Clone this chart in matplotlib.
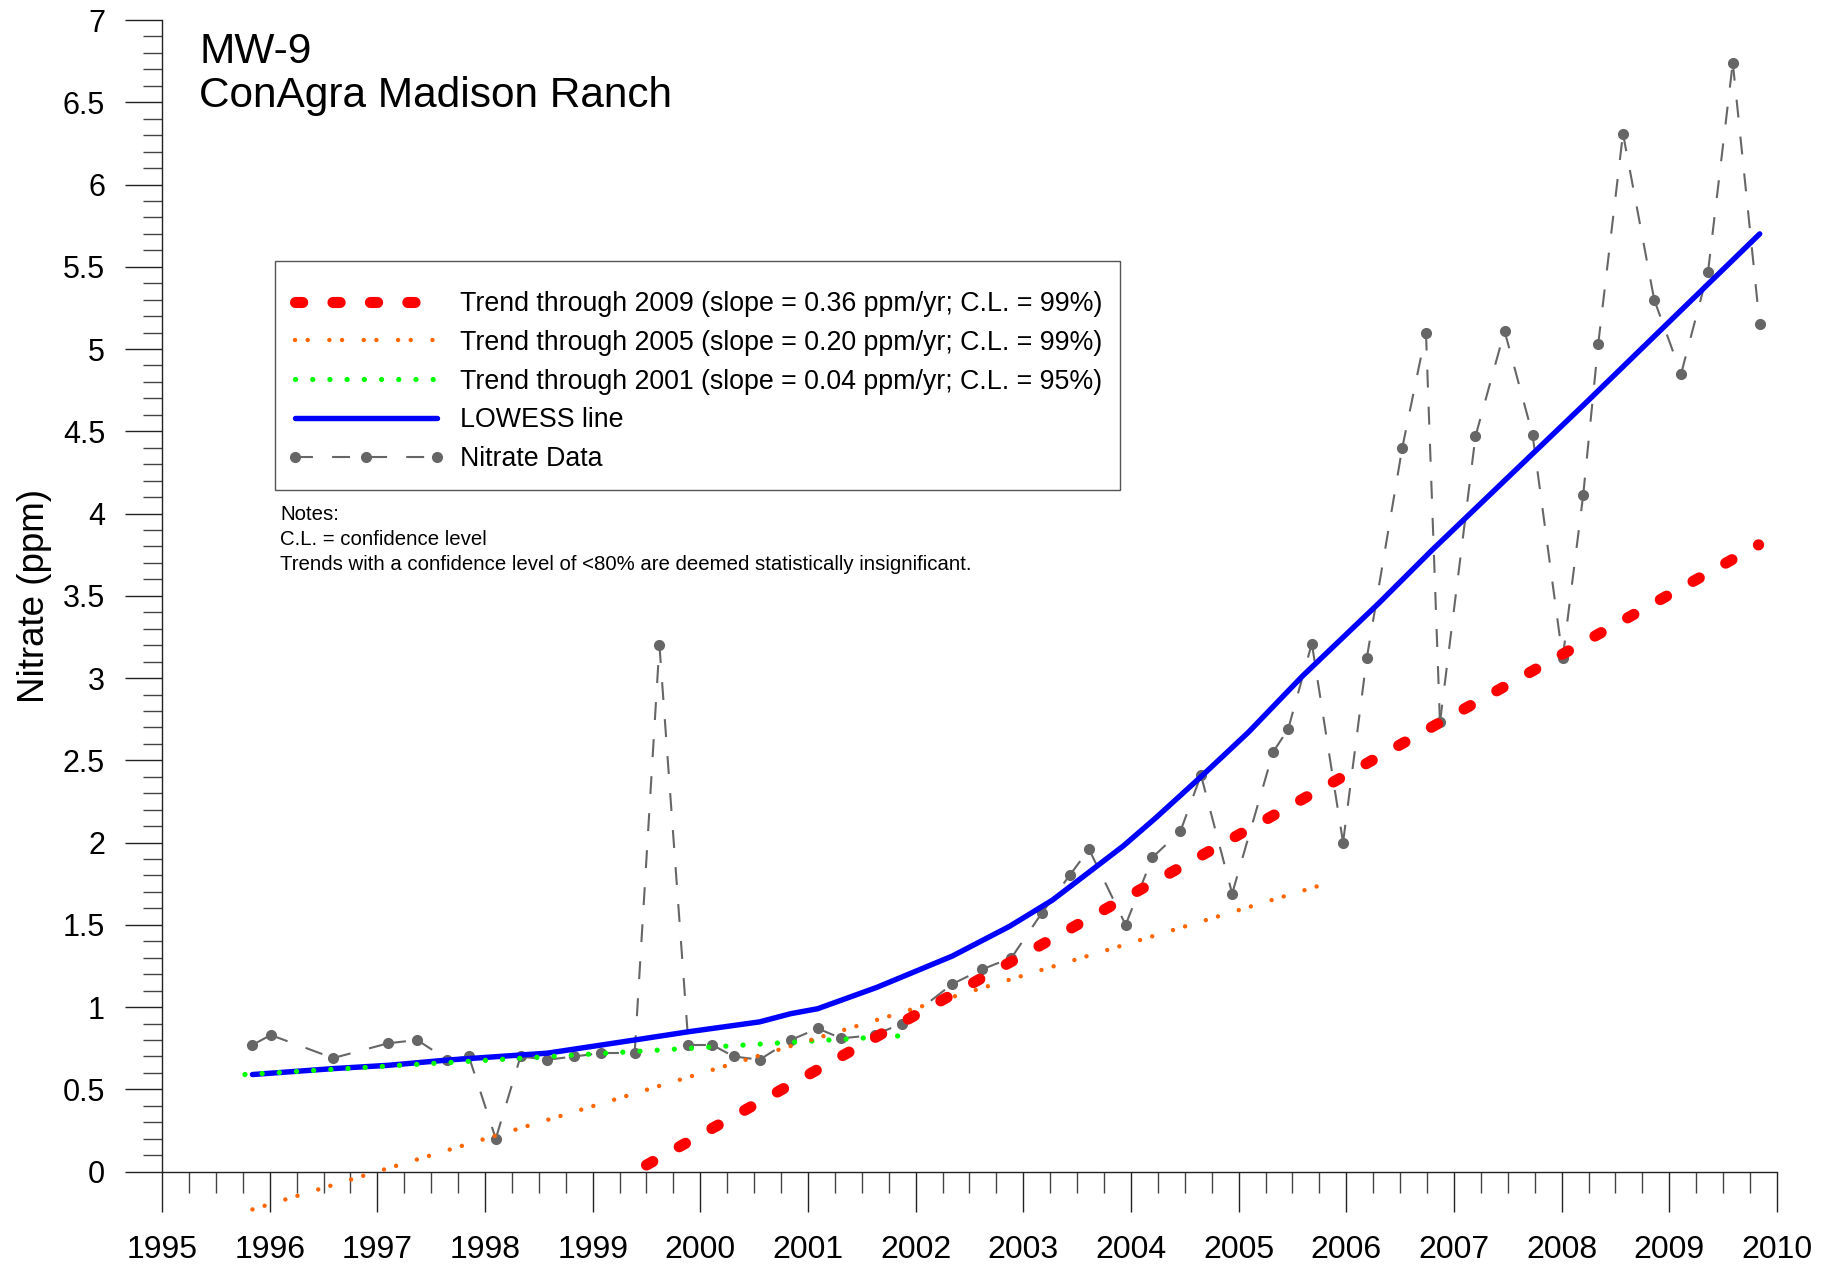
import matplotlib.pyplot as plt
import numpy as np
from matplotlib import font_manager
from matplotlib.collections import LineCollection
from matplotlib.lines import Line2D
from matplotlib.patches import Rectangle
from matplotlib.ticker import MultipleLocator, FuncFormatter

# nitrate samples (decimal year, ppm)
data_x = [1995.84, 1996.01, 1996.59, 1997.10, 1997.37, 1997.65, 1997.85, 1998.10,
          1998.33, 1998.58, 1998.83, 1999.08, 1999.39, 1999.62, 1999.89, 2000.11,
          2000.31, 2000.55, 2000.84, 2001.09, 2001.31, 2001.62, 2001.87, 2002.34,
          2002.62, 2002.89, 2003.17, 2003.43, 2003.61, 2003.95, 2004.20, 2004.46,
          2004.65, 2004.94, 2005.32, 2005.46, 2005.68, 2005.97, 2006.19, 2006.52,
          2006.74, 2006.87, 2007.20, 2007.47, 2007.73, 2008.01, 2008.20, 2008.34,
          2008.57, 2008.86, 2009.11, 2009.36, 2009.59, 2009.84]
data_y = [0.77, 0.83, 0.69, 0.78, 0.80, 0.68, 0.70, 0.20,
          0.70, 0.68, 0.70, 0.72, 0.72, 3.20, 0.77, 0.77,
          0.70, 0.68, 0.80, 0.87, 0.81, 0.83, 0.90, 1.14,
          1.23, 1.30, 1.57, 1.80, 1.96, 1.50, 1.91, 2.07,
          2.41, 1.69, 2.55, 2.69, 3.21, 2.00, 3.12, 4.40,
          5.10, 2.73, 4.47, 5.11, 4.48, 3.12, 4.11, 5.03,
          6.31, 5.30, 4.85, 5.47, 6.74, 5.15]

# LOWESS line
lowess_x = [1995.84, 1996.59, 1997.10, 1997.65, 1998.58, 1999.39, 1999.89, 2000.55,
            2000.84, 2001.09, 2001.64, 2002.34, 2002.87, 2003.27, 2003.93, 2004.23,
            2004.65, 2005.09, 2005.59, 2006.31, 2006.80, 2008.22, 2009.84]
lowess_y = [0.59, 0.626, 0.646, 0.678, 0.72, 0.80, 0.85, 0.91,
            0.96, 0.99, 1.12, 1.31, 1.49, 1.65, 1.98, 2.15,
            2.40, 2.67, 3.01, 3.46, 3.78, 4.67, 5.70]

# trend line end points
trend09_x = [1999.50, 2009.83]
trend09_y = [0.04, 3.81]
trend05_x = [1995.84, 2005.91]
trend05_y = [-0.23, 1.77]
trend01_x = [1995.77, 2001.85]
trend01_y = [0.59, 0.825]

labels = ['Trend through 2009 (slope = 0.36 ppm/yr; C.L. = 99%)',
          'Trend through 2005 (slope = 0.20 ppm/yr; C.L. = 99%)',
          'Trend through 2001 (slope = 0.04 ppm/yr; C.L. = 95%)',
          'LOWESS line',
          'Nitrate Data']
notes = ['Notes:',
         'C.L. = confidence level',
         'Trends with a confidence level of <80% are deemed statistically insignificant.']

plt.rcParams['font.family'] = ['Liberation Sans', 'DejaVu Sans']
available = {f.name for f in font_manager.fontManager.ttflist}
if 'Liberation Sans Narrow' in available:
    legend_font = {'family': 'Liberation Sans Narrow', 'size': 23}
else:
    legend_font = {'family': 'Liberation Sans', 'size': 19.3}

fig = plt.figure(figsize=(18.37, 12.67), dpi=100)
ax = fig.add_axes([0.0882, 0.0753, 0.8791, 0.9089])

gray = '#666666'
# each segment restarts its dash pattern, like the original software
segs = [[(data_x[i], data_y[i]), (data_x[i + 1], data_y[i + 1])] for i in range(len(data_x) - 1)]
lc = LineCollection(segs, colors=gray, linewidths=1.5, linestyles=[(0, (8.6, 9.2))], zorder=2)
ax.add_collection(lc)
ax.plot(data_x, data_y, 'o', color=gray, ms=7, zorder=3, clip_on=False)

blue, = ax.plot(lowess_x, lowess_y, color='#0000FF', lw=3.9, solid_capstyle='round', zorder=4)
green, = ax.plot(trend01_x, trend01_y, color='#00FF00', lw=3.8, linestyle=(0, (0.01, 3.25)),
                 dash_capstyle='round', zorder=5)
orange, = ax.plot(trend05_x, trend05_y, color='#FF6600', lw=3.2,
                  linestyle=(0, (0.01, 2.84, 0.01, 4.87)), dash_capstyle='round',
                  zorder=5, clip_on=False)
red, = ax.plot(trend09_x, trend09_y, color='#FF0000', lw=8, linestyle=(0, (0.65, 2.72)),
               dash_capstyle='round', zorder=6)

data_handle = Line2D([], [], color=gray, lw=1.5, linestyle=(0, (8.6, 9.2)),
                     marker='o', ms=7, markerfacecolor=gray, markeredgecolor=gray)

# legend box drawn separately so its size matches the original
ax.add_patch(Rectangle((0.070, 0.5918), 0.5232, 0.1989, transform=ax.transAxes,
                       fill=False, edgecolor='#555555', lw=1.0, zorder=7))
leg = ax.legend([red, orange, green, blue, data_handle], labels,
                loc='upper left', bbox_to_anchor=(0.0774, 0.7646), borderaxespad=0,
                prop=legend_font, handlelength=5.9, handletextpad=0.56,
                borderpad=0, labelspacing=0.475, numpoints=3, frameon=False)

ax.text(0.0231, 0.9628, 'MW-9', transform=ax.transAxes, fontsize=30.5, va='baseline')
ax.text(0.0231, 0.9243, 'ConAgra Madison Ranch', transform=ax.transAxes, fontsize=30.5,
        va='baseline')
for line, ypos in zip(notes, [0.5662, 0.5445, 0.5224]):
    ax.text(0.073, ypos, line, transform=ax.transAxes, fontsize=14.7, va='baseline')

ax.set_xlim(1995, 2010)
ax.set_ylim(0, 7)
ax.xaxis.set_major_locator(MultipleLocator(1))
ax.xaxis.set_minor_locator(MultipleLocator(0.25))
ax.yaxis.set_major_locator(MultipleLocator(0.5))
ax.yaxis.set_minor_locator(MultipleLocator(0.1))
ax.yaxis.set_major_formatter(FuncFormatter(lambda v, p: f'{v:g}'))
ax.xaxis.set_major_formatter(FuncFormatter(lambda v, p: f'{v:.0f}'))

ax.tick_params(axis='x', which='major', direction='out', length=29, width=1, pad=17,
               labelsize=23, color='#222222')
ax.tick_params(axis='x', which='minor', direction='out', length=15, width=1, color='#444444')
ax.tick_params(axis='y', which='major', direction='out', length=27, width=1, pad=14,
               labelsize=22, color='#222222')
ax.tick_params(axis='y', which='minor', direction='out', length=14, width=1, color='#444444')

for side in ['top', 'right']:
    ax.spines[side].set_visible(False)
for side in ['left', 'bottom']:
    ax.spines[side].set_color('#222222')
    ax.spines[side].set_linewidth(1)

ax.set_ylabel('Nitrate (ppm)', fontsize=26.5)
ax.yaxis.set_label_coords(-0.068, 0.50)

fig.savefig('out.png', dpi=100)
